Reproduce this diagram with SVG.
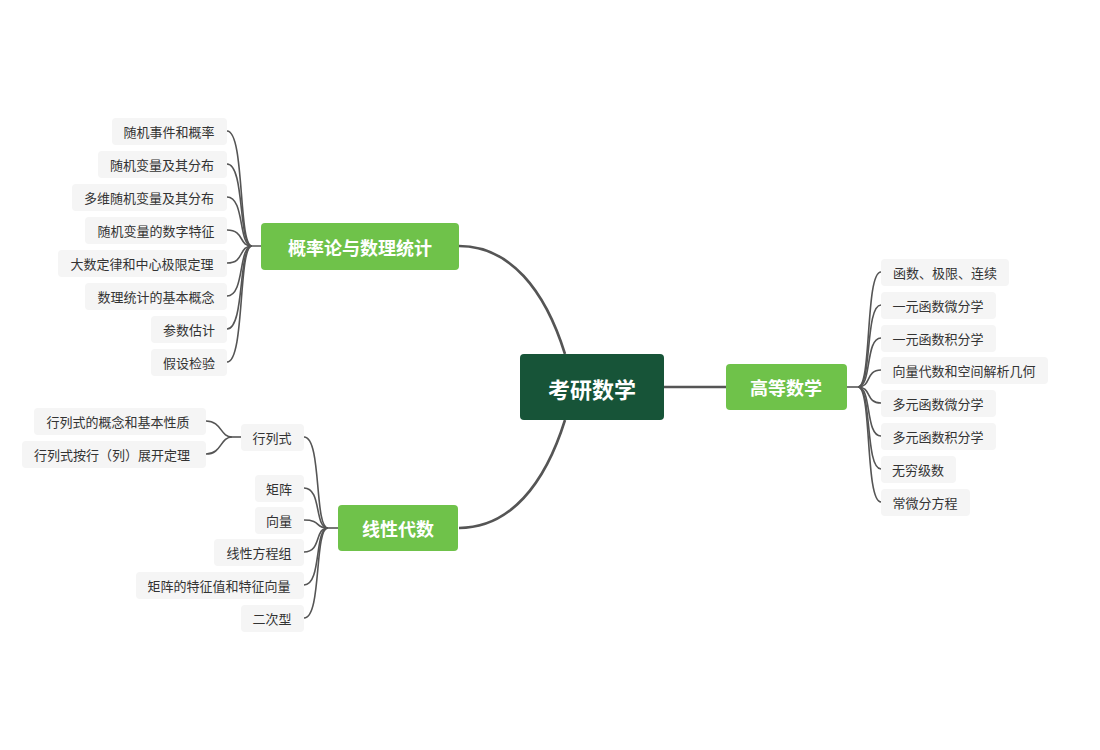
<svg xmlns="http://www.w3.org/2000/svg" width="1100" height="750" viewBox="0 0 1100 750">
<style>
text{font-family:"Noto Sans CJK SC","Liberation Sans",sans-serif;text-anchor:middle;dominant-baseline:central}
.leaf rect{fill:#f5f5f5}
.leaf text{font-size:13px;fill:#333}
.br rect{fill:#6fc24a}
.br text{font-size:18px;font-weight:bold;fill:#fff}
.c{fill:none;stroke:#555;stroke-width:1.6}
.m{fill:none;stroke:#555;stroke-width:2.6}
</style>
<rect width="1100" height="750" fill="#fff"/>
<g id="connectors">
<path class="m" d="M565,354 C545,290 510,246 459,246"/>
<path class="m" d="M565,420 C545,484 510,528 459,528"/>
<path class="m" d="M664,387 L726,387"/>
<path class="c" d="M459,246 L252,246"/>
<path class="c" d="M252,246 C238,246 245,131 227,131"/>
<path class="c" d="M252,246 C238,246 245,164 227,164"/>
<path class="c" d="M252,246 C238,246 245,197 227,197"/>
<path class="c" d="M252,246 C238,246 245,230 227,230"/>
<path class="c" d="M252,246 C238,246 245,263 227,263"/>
<path class="c" d="M252,246 C238,246 245,296 227,296"/>
<path class="c" d="M252,246 C238,246 245,329 227,329"/>
<path class="c" d="M252,246 C238,246 245,362 227,362"/>
<path class="c" d="M847,387 L858,387"/>
<path class="c" d="M858,387 C872,387 865,272 881,272"/>
<path class="c" d="M858,387 C872,387 865,305 881,305"/>
<path class="c" d="M858,387 C872,387 865,338 881,338"/>
<path class="c" d="M858,387 C872,387 865,370 881,370"/>
<path class="c" d="M858,387 C872,387 865,403 881,403"/>
<path class="c" d="M858,387 C872,387 865,436 881,436"/>
<path class="c" d="M858,387 C872,387 865,469 881,469"/>
<path class="c" d="M858,387 C872,387 865,502 881,502"/>
<path class="c" d="M338,528 L328,528"/>
<path class="c" d="M328,528 C314,528 322,437 304,437"/>
<path class="c" d="M328,528 C314,528 322,488 304,488"/>
<path class="c" d="M328,528 C314,528 322,520 304,520"/>
<path class="c" d="M328,528 C314,528 322,552 304,552"/>
<path class="c" d="M328,528 C314,528 322,585 304,585"/>
<path class="c" d="M328,528 C314,528 322,618 304,618"/>
<path class="c" d="M241,437 L232,437"/>
<path class="c" d="M232,437 C220,437 222,421 206,421"/>
<path class="c" d="M232,437 C220,437 222,454 206,454"/>
</g>
<g id="root"><rect x="520" y="354" width="144" height="66" rx="4" fill="#175438"/><text x="592" y="388" font-size="22" font-weight="bold" fill="#fff">考研数学</text></g>
<g id="gailv" class="br"><rect x="261" y="223" width="198" height="47" rx="4"/><text x="360" y="247">概率论与数理统计</text></g>
<g id="gaoshu" class="br"><rect x="726" y="364" width="121" height="46" rx="4"/><text x="786" y="387">高等数学</text></g>
<g id="xiandai" class="br"><rect x="338" y="505" width="120" height="46" rx="4"/><text x="398" y="528">线性代数</text></g>
<g id="p1" class="leaf"><rect x="112" y="118" width="115" height="27" rx="4"/><text x="169" y="131">随机事件和概率</text></g>
<g id="p2" class="leaf"><rect x="98" y="151" width="129" height="27" rx="4"/><text x="162" y="164">随机变量及其分布</text></g>
<g id="p3" class="leaf"><rect x="72" y="184" width="155" height="27" rx="4"/><text x="149" y="197">多维随机变量及其分布</text></g>
<g id="p4" class="leaf"><rect x="85" y="217" width="142" height="27" rx="4"/><text x="156" y="230">随机变量的数字特征</text></g>
<g id="p5" class="leaf"><rect x="58" y="250" width="169" height="27" rx="4"/><text x="142" y="263">大数定律和中心极限定理</text></g>
<g id="p6" class="leaf"><rect x="85" y="283" width="142" height="27" rx="4"/><text x="156" y="296">数理统计的基本概念</text></g>
<g id="p7" class="leaf"><rect x="151" y="316" width="76" height="27" rx="4"/><text x="189" y="329">参数估计</text></g>
<g id="p8" class="leaf"><rect x="151" y="349" width="76" height="27" rx="4"/><text x="189" y="362">假设检验</text></g>
<g id="g1" class="leaf"><rect x="881" y="259" width="128" height="27" rx="4"/><text x="945" y="272">函数、极限、连续</text></g>
<g id="g2" class="leaf"><rect x="881" y="292" width="115" height="27" rx="4"/><text x="938" y="305">一元函数微分学</text></g>
<g id="g3" class="leaf"><rect x="881" y="325" width="115" height="27" rx="4"/><text x="938" y="338">一元函数积分学</text></g>
<g id="g4" class="leaf"><rect x="881" y="357" width="167" height="27" rx="4"/><text x="964" y="370">向量代数和空间解析几何</text></g>
<g id="g5" class="leaf"><rect x="881" y="390" width="115" height="27" rx="4"/><text x="938" y="403">多元函数微分学</text></g>
<g id="g6" class="leaf"><rect x="881" y="423" width="115" height="27" rx="4"/><text x="938" y="436">多元函数积分学</text></g>
<g id="g7" class="leaf"><rect x="881" y="456" width="75" height="27" rx="4"/><text x="918" y="469">无穷级数</text></g>
<g id="g8" class="leaf"><rect x="881" y="489" width="89" height="27" rx="4"/><text x="925" y="502">常微分方程</text></g>
<g id="l1" class="leaf"><rect x="241" y="424" width="63" height="27" rx="4"/><text x="272" y="437">行列式</text></g>
<g id="l11" class="leaf"><rect x="34" y="408" width="172" height="27" rx="4"/><text x="118" y="421">行列式的概念和基本性质</text></g>
<g id="l12" class="leaf"><rect x="22" y="441" width="184" height="27" rx="4"/><text x="112" y="454">行列式按行（列）展开定理</text></g>
<g id="l2" class="leaf"><rect x="255" y="475" width="49" height="27" rx="4"/><text x="279" y="488">矩阵</text></g>
<g id="l3" class="leaf"><rect x="255" y="507" width="49" height="27" rx="4"/><text x="279" y="520">向量</text></g>
<g id="l4" class="leaf"><rect x="214" y="539" width="90" height="27" rx="4"/><text x="259" y="552">线性方程组</text></g>
<g id="l5" class="leaf"><rect x="136" y="572" width="168" height="27" rx="4"/><text x="219" y="585">矩阵的特征值和特征向量</text></g>
<g id="l6" class="leaf"><rect x="241" y="605" width="63" height="27" rx="4"/><text x="272" y="618">二次型</text></g>
</svg>
